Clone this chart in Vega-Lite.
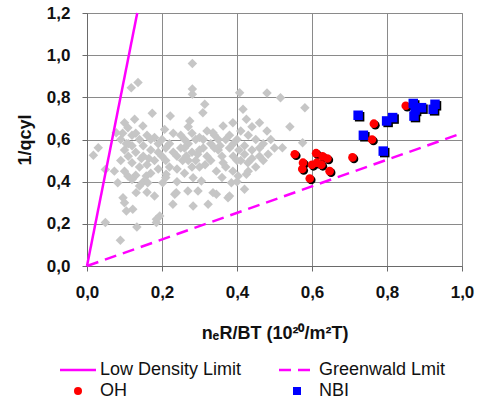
{
  "$schema": "https://vega.github.io/schema/vega-lite/v6.json",
  "width": 375,
  "height": 253,
  "autosize": {"type": "none"},
  "padding": {"left": 87, "top": 13, "right": 15, "bottom": 139},
  "background": "white",
  "config": {
    "font": "Liberation Sans",
    "view": {"stroke": "#8a8a8a", "strokeWidth": 1},
    "axis": {
      "grid": true, "gridColor": "#8a8a8a", "gridOpacity": 1, "gridWidth": 1,
      "domainColor": "#6a6a6a", "tickColor": "#6a6a6a", "tickSize": 5, "labelFlush": false, "labelOverlap": false,
      "labelFont": "Liberation Sans", "labelFontWeight": "bold", "labelFontSize": 17, "labelColor": "#111",
      "titleFont": "Liberation Sans", "titleFontWeight": "bold", "titleFontSize": 18, "titleColor": "#111"
    }
  },
  "datasets": {
    "lines": [
      {"series": "Low Density Limit", "x": 0, "y": 0},
      {"series": "Low Density Limit", "x": 0.134, "y": 1.2},
      {"series": "Greenwald Lmit", "x": 0, "y": 0},
      {"series": "Greenwald Lmit", "x": 1.0, "y": 0.63}
    ],
    "gray": [
      {"x":0.281,"y":0.96},{"x":0.281,"y":0.84},{"x":0.281,"y":0.815},{"x":0.118,"y":0.846},{"x":0.136,"y":0.87},
      {"x":0.407,"y":0.822},{"x":0.48,"y":0.82},{"x":0.516,"y":0.798},{"x":0.314,"y":0.767},{"x":0.309,"y":0.727},
      {"x":0.416,"y":0.743},{"x":0.581,"y":0.751},{"x":0.541,"y":0.661},{"x":0.575,"y":0.585},{"x":0.521,"y":0.561},
      {"x":0.483,"y":0.53},{"x":0.46,"y":0.52},{"x":0.429,"y":0.49},{"x":0.42,"y":0.364},{"x":0.174,"y":0.724},
      {"x":0.222,"y":0.711},{"x":0.274,"y":0.688},{"x":0.425,"y":0.696},
      {"x":0.017,"y":0.525},{"x":0.03,"y":0.561},{"x":0.049,"y":0.458},{"x":0.073,"y":0.45},{"x":0.078,"y":0.632},
      {"x":0.09,"y":0.6},{"x":0.109,"y":0.656},{"x":0.127,"y":0.696},{"x":0.149,"y":0.664},{"x":0.1,"y":0.68},
      {"x":0.12,"y":0.62},{"x":0.14,"y":0.6},{"x":0.16,"y":0.62},{"x":0.18,"y":0.61},{"x":0.207,"y":0.648},
      {"x":0.19,"y":0.58},{"x":0.1,"y":0.55},{"x":0.11,"y":0.52},{"x":0.13,"y":0.54},{"x":0.15,"y":0.52},
      {"x":0.17,"y":0.55},{"x":0.12,"y":0.49},{"x":0.14,"y":0.47},{"x":0.16,"y":0.48},{"x":0.18,"y":0.5},
      {"x":0.2,"y":0.52},{"x":0.09,"y":0.5},{"x":0.1,"y":0.45},{"x":0.13,"y":0.43},{"x":0.15,"y":0.4},
      {"x":0.17,"y":0.44},{"x":0.19,"y":0.46},{"x":0.21,"y":0.5},{"x":0.082,"y":0.395},{"x":0.109,"y":0.427},
      {"x":0.162,"y":0.395},{"x":0.158,"y":0.427},{"x":0.202,"y":0.395},{"x":0.211,"y":0.435},{"x":0.096,"y":0.324},
      {"x":0.131,"y":0.348},{"x":0.1,"y":0.3},{"x":0.105,"y":0.261},{"x":0.122,"y":0.269},{"x":0.18,"y":0.332},
      {"x":0.234,"y":0.34},{"x":0.229,"y":0.293},{"x":0.049,"y":0.206},{"x":0.089,"y":0.122},{"x":0.133,"y":0.185},
      {"x":0.185,"y":0.206},{"x":0.194,"y":0.237},{"x":0.185,"y":0.222},
      {"x":0.238,"y":0.348},{"x":0.269,"y":0.356},{"x":0.296,"y":0.356},{"x":0.283,"y":0.285},{"x":0.323,"y":0.293},
      {"x":0.345,"y":0.34},{"x":0.376,"y":0.324},{"x":0.283,"y":0.419},{"x":0.305,"y":0.403},{"x":0.336,"y":0.348},
      {"x":0.38,"y":0.332},{"x":0.385,"y":0.395},{"x":0.403,"y":0.427},{"x":0.425,"y":0.435},{"x":0.345,"y":0.45},
      {"x":0.389,"y":0.45},{"x":0.363,"y":0.49},{"x":0.265,"y":0.522},{"x":0.24,"y":0.46},{"x":0.25,"y":0.56},
      {"x":0.26,"y":0.6},{"x":0.27,"y":0.58},{"x":0.28,"y":0.54},{"x":0.29,"y":0.5},{"x":0.3,"y":0.55},
      {"x":0.31,"y":0.6},{"x":0.32,"y":0.52},{"x":0.3,"y":0.47},{"x":0.27,"y":0.5},{"x":0.25,"y":0.62},
      {"x":0.28,"y":0.63},{"x":0.33,"y":0.58},{"x":0.34,"y":0.62},{"x":0.336,"y":0.632},{"x":0.363,"y":0.664},
      {"x":0.389,"y":0.68},{"x":0.35,"y":0.55},{"x":0.37,"y":0.6},{"x":0.38,"y":0.56},{"x":0.39,"y":0.52},
      {"x":0.4,"y":0.6},{"x":0.41,"y":0.64},{"x":0.42,"y":0.57},{"x":0.43,"y":0.62},{"x":0.44,"y":0.55},
      {"x":0.45,"y":0.6},{"x":0.41,"y":0.5},{"x":0.44,"y":0.51},{"x":0.47,"y":0.58},{"x":0.48,"y":0.64},
      {"x":0.46,"y":0.68},{"x":0.45,"y":0.47},{"x":0.4,"y":0.4},{"x":0.36,"y":0.42},{"x":0.22,"y":0.58},
      {"x":0.23,"y":0.54},{"x":0.21,"y":0.42},{"x":0.24,"y":0.4},{"x":0.26,"y":0.44},
      {"x":0.11,"y":0.58},{"x":0.13,"y":0.63},{"x":0.15,"y":0.57},{"x":0.17,"y":0.6},{"x":0.12,"y":0.41},
      {"x":0.14,"y":0.38},{"x":0.16,"y":0.35},{"x":0.19,"y":0.54},{"x":0.2,"y":0.6},{"x":0.22,"y":0.47},
      {"x":0.24,"y":0.52},{"x":0.26,"y":0.56},{"x":0.28,"y":0.47},{"x":0.3,"y":0.61},{"x":0.32,"y":0.64},
      {"x":0.31,"y":0.56},{"x":0.33,"y":0.5},{"x":0.34,"y":0.56},{"x":0.35,"y":0.6},{"x":0.36,"y":0.52},
      {"x":0.37,"y":0.47},{"x":0.38,"y":0.62},{"x":0.39,"y":0.58},{"x":0.4,"y":0.5},{"x":0.42,"y":0.53},
      {"x":0.43,"y":0.45},{"x":0.44,"y":0.66},{"x":0.46,"y":0.56},{"x":0.47,"y":0.5},{"x":0.49,"y":0.6},
      {"x":0.5,"y":0.56},{"x":0.27,"y":0.66},{"x":0.29,"y":0.6},{"x":0.23,"y":0.63},{"x":0.21,"y":0.56},
      {"x":0.12,"y":0.57},{"x":0.095,"y":0.63},{"x":0.105,"y":0.58},{"x":0.145,"y":0.51},{"x":0.165,"y":0.51},
      {"x":0.255,"y":0.5},{"x":0.295,"y":0.53},{"x":0.315,"y":0.48},{"x":0.355,"y":0.57},{"x":0.405,"y":0.55}
    ],
    "shots": [
      {"series":"OH","x":0.554,"y":0.53},{"series":"OH","x":0.576,"y":0.49},{"series":"OH","x":0.574,"y":0.46},
      {"series":"OH","x":0.594,"y":0.415},{"series":"OH","x":0.611,"y":0.535},{"series":"OH","x":0.613,"y":0.49},
      {"series":"OH","x":0.628,"y":0.52},{"series":"OH","x":0.641,"y":0.51},{"series":"OH","x":0.647,"y":0.45},
      {"series":"OH","x":0.625,"y":0.48},{"series":"OH","x":0.6,"y":0.48},{"series":"OH","x":0.708,"y":0.515},
      {"series":"OH","x":0.765,"y":0.675},{"series":"OH","x":0.76,"y":0.6},{"series":"OH","x":0.85,"y":0.76},
      {"series":"NBI","x":0.723,"y":0.715},{"series":"NBI","x":0.737,"y":0.62},{"series":"NBI","x":0.79,"y":0.545},
      {"series":"NBI","x":0.799,"y":0.688},{"series":"NBI","x":0.815,"y":0.704},{"series":"NBI","x":0.87,"y":0.771},
      {"series":"NBI","x":0.872,"y":0.711},{"series":"NBI","x":0.892,"y":0.751},{"series":"NBI","x":0.923,"y":0.743},
      {"series":"NBI","x":0.928,"y":0.767},{"series":"NBI","x":0.875,"y":0.74}
    ]
  },
  "encoding": {
    "x": {
      "field": "x", "type": "quantitative",
      "scale": {"domain": [0, 1.0], "nice": false, "zero": false},
      "axis": {
        "values": [0, 0.2, 0.4, 0.6, 0.8, 1.0],
        "labelExpr": "replace(format(datum.value, '.1f'), '.', ',')",
        "labelPadding": 13, "title": "nₑR/BT  (10²⁰/m²T)", "titlePadding": 24
      }
    },
    "y": {
      "field": "y", "type": "quantitative",
      "scale": {"domain": [0, 1.2], "nice": false, "zero": false},
      "axis": {
        "values": [0, 0.2, 0.4, 0.6, 0.8, 1.0, 1.2],
        "labelExpr": "replace(format(datum.value, '.1f'), '.', ',')",
        "labelPadding": 12, "title": "1/qcyl", "titlePadding": 12
      }
    }
  },
  "layer": [
    {
      "data": {"name": "gray"},
      "mark": {"type": "point", "shape": "diamond", "filled": true, "color": "#c6c6c6", "opacity": 1, "size": 90}
    },
    {
      "data": {"name": "lines"},
      "mark": {"type": "line", "strokeWidth": 2.5},
      "encoding": {
        "color": {
          "field": "series", "type": "nominal",
          "scale": {"domain": ["Low Density Limit", "OH", "Greenwald Lmit", "NBI"], "range": ["#ff00ff", "#ff0000", "#ff00ff", "#0000ff"]},
          "legend": {
            "title": null, "orient": "none", "legendX": -27, "legendY": 348, "columns": 2,
            "columnPadding": 32, "rowPadding": 3, "labelOffset": 22,
            "labelFont": "Liberation Sans", "labelFontSize": 18, "labelColor": "#111",
            "symbolSize": 1296,
            "encode": {
              "symbols": {
                "update": {
                  "x": {"value": 18},
                  "shape": {"scale": "shape", "field": "value"},
                  "size": {"signal": "datum.value == 'OH' || datum.value == 'NBI' ? 64 : 1296"},
                  "strokeDash": {"scale": "strokeDash", "field": "value"},
                  "stroke": {"scale": "color", "field": "value"},
                  "fill": {"scale": "color", "field": "value"},
                  "strokeWidth": {"signal": "datum.value == 'OH' || datum.value == 'NBI' ? 0 : 2.5"},
                  "opacity": {"value": 1}
                }
              }
            }
          }
        },
        "strokeDash": {
          "field": "series", "type": "nominal",
          "scale": {"domain": ["Low Density Limit", "OH", "Greenwald Lmit", "NBI"], "range": [[1, 0], [1, 0], [12, 7], [1, 0]]}
        }
      }
    },
    {
      "data": {"name": "shots"},
      "mark": {"type": "point", "filled": true, "color": "black", "opacity": 1, "xOffset": 1.5, "yOffset": 1.5},
      "encoding": {
        "shape": {"field": "series", "type": "nominal", "legend": null},
        "size": {"condition": {"test": "datum.series == 'OH'", "value": 75}, "value": 90}
      }
    },
    {
      "data": {"name": "shots"},
      "mark": {"type": "point", "filled": true, "opacity": 1},
      "encoding": {
        "color": {"field": "series", "type": "nominal"},
        "shape": {
          "field": "series", "type": "nominal",
          "scale": {"domain": ["Low Density Limit", "OH", "Greenwald Lmit", "NBI"], "range": ["stroke", "circle", "stroke", "square"]}
        },
        "size": {"condition": {"test": "datum.series == 'OH'", "value": 75}, "value": 90}
      }
    }
  ]
}
